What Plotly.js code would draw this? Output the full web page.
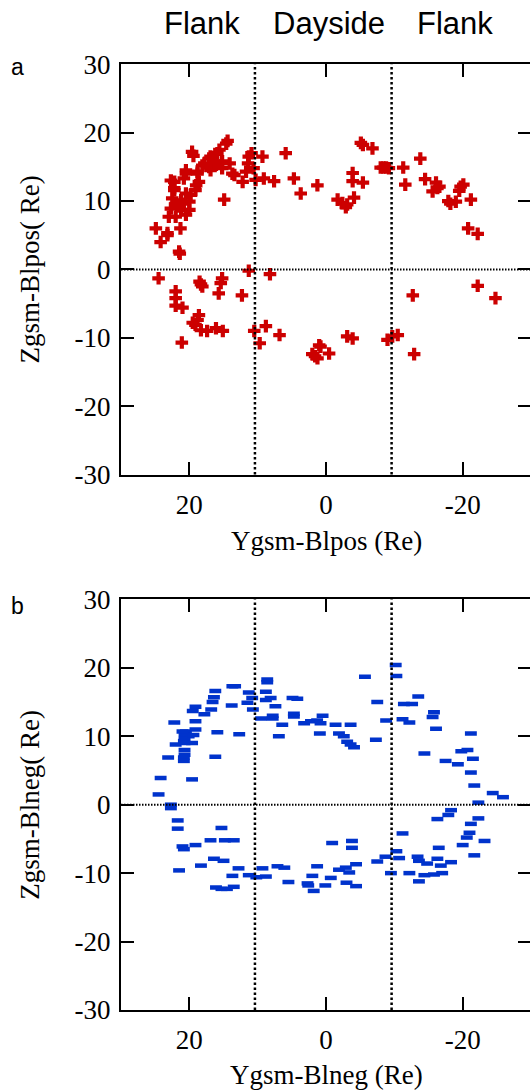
<!DOCTYPE html>
<html>
<head>
<meta charset="utf-8">
<script src="https://cdn.plot.ly/plotly-3.0.1.min.js"></script>
<style>
  html, body { margin: 0; padding: 0; background: #ffffff; overflow: hidden; }
  #chart { width: 540px; height: 1092px; }
</style>
</head>
<body>
<div id="chart"></div>
<script>
// ---- Panel a: reconnection positions for Bl positive (red crosses) ----
const posY = [14.4, 14.6, 19.6, 19.4, 15.6, 15.9, 16.9, 17.1, 16.1, 17.8, 18.1, 16.1, 15.2, 14.1, 15.2, 17.1, 16.9, 18.8, 18.8, 20.5,
  20.5, 13.7, 13.4, 12.2, 20.8, 18.6, 22.7, 22.2, 19.0, 22.2, 22.2, 19.1, 20.5, 19.8, 22.5, 21.2, 20.0, 22.0, 20.8, 21.7,
  21.5, 22.7, 21.2, 20.0, 20.5, 23.0, 22.0, 21.3, 24.9, 23.2, 23.2, 24.2, 21.5, 21.4, 14.9,
  11.3, 10.9, 9.3, 11.4, 11.7, 10.3, 9.1, 7.6, 10.6, 5.9, 4.7, 3.7, 1.26,
  -1.7, -2.4, -2.9, -3.1, -4.1, -3.9, -3.9, -5.4, -5.1, -5.4, -6.8, -8.0, -8.4, -8.8, -9.2, -11.3, -11.6, -13.8, -14.5, -16.1,
  -16.3, -15.6, -16.6, -17.9, -18.2, -19.0, -19.5, -19.7, -20.1, -21.2, -20.8, -22.2,
  24.5, 22.0, 22.0, 22.0, 21.0, 18.5, 18.3, 18.1, 15.2, 15.4, 15.7, 12.3, 11.3, 8.2, 18.6, 18.8, 19.5, 19.1, 18.3, 17.4,
  16.1, 15.1, 21.1, 10.5, 9.7, 8.8, 6.8, 2.0, 1.25, 1.0, 0.8, -0.45, 1.6, -3.1, -3.9, -9.0, -9.7, -10.5, -12.7, -12.9,
  -22.2, -24.8];
const posZ = [18.8, 18.4, 17.2, 16.6, 17.5, 17.0, 16.5, 16.2, 15.8, 15.5, 15.2, 15.3, 15.8, 15.5, 14.8, 15.0, 14.5, 14.3, 14.0, 14.5,
  14.0, 14.0, 13.8, 12.8, 13.3, 12.8, 13.0, 12.8, 12.3, 11.9, 11.6, 11.6, 11.1, 10.9, 10.4, 10.1, 9.9, 9.6, 9.6, 9.4,
  9.2, 8.9, 8.7, 8.7, 8.0, 7.7, 7.7, 6.0, 6.0, 5.3, 5.0, 4.0, 2.6, 2.3, 10.2,
  16.5, 17.0, 16.5, 15.5, 14.3, 13.1, 13.3, 12.9, 14.8, 17.0, 13.3, 11.1, 12.3,
  10.2, 9.7, 9.1, 9.5, 10.5, 12.9, 14.1, 12.7, 18.5, 18.2, 17.7, 14.9, 14.9, 14.9, 14.8, 14.9, 12.4, 16.2, 13.2, 12.7,
  11.9, 11.4, 12.1, 10.0, 9.6, 9.9, 11.5, 12.1, 12.4, 10.2, 6.0, 5.2,
  -1.3, -3.2, -4.2, -5.3, -5.6, -1.8, -2.2, -2.5, -1.3, -2.0, -3.5, -3.8, -0.2, -0.7, -6.7, -7.4, -7.8, -8.1, -8.9, -9.0,
  -8.6, -9.0, -10.7, -9.0, -10.8, -8.3, -9.6, -12.4, -13.0, -11.1, -11.3, -12.3, -12.7, -9.8, -10.1, -10.3, -9.8, -9.6, -3.8, -12.4,
  -2.4, -4.2];

// ---- Panel b: reconnection positions for Bl negative (blue dashes) ----
const negY = [8.6, 8.6, 13.7, 13.3, 16.2, 16.4, 16.6, 19.1, 19.5, 11.3, 10.8, 11.5, 10.7, 8.8, 8.1, 8.8, 7.4, 13.8, 16.8, 17.8,
  19.1, 22.2, 20.5, 19.1, 20.1, 20.8, 22.0, 23.1, 20.8, 20.8, 15.9, 12.7, 16.2, 9.5, 7.8, 7.8, 6.9, 6.4, 4.9, 4.2,
  4.7, 4.7, 3.2, 2.2, 1.3, 0.5, 0.8, 0.9, -1.4, -3.6, -1.9, -2.6, -3.1, -3.6, -4.1, -5.7, -7.5, -7.3, -8.8, -10.2,
  -10.3, -11.4, -12.6, -13.5, -11.2, -12.2, -15.8, -15.6, -16.1, -21.2, -14.4, -17.5, -19.3, -19.8, -20.7, -21.5,
  20.7, 20.7, 20.7, 20.7, 20.7, 19.4, 19.6, 21.0,
  24.2, 19.6, 24.5, 22.7, 22.7, 21.7, 21.7, 21.0, 20.8, 19.1, 21.5, 18.3, 16.9, 15.3, 14.8, 13.5, 16.4, 15.0, 12.8, 13.7,
  16.1, 15.3, 14.5, 13.5, 11.3, 10.2, 8.8, 9.3, 7.1, 6.1, 5.5, 2.7, 2.6, 1.8, 2.0, 1.3, 0.1, -0.9, -0.7, -1.9,
  -2.9, -3.8, -3.8, -3.4, -4.4, -3.0, -4.4, -7.5, -8.7, -9.5, -10.3, -10.7, -11.2, -12.2, -13.4, -13.6, -14.8, -14.4, -13.6, -15.8,
  -16.3, -16.8, -17.0, -16.5, -18.3, -16.3, -17.9, -18.3, -20.0, -20.6, -21.0, -23.2, -21.2, -22.3, -22.3, -21.7, -21.2, -21.7, -24.4, -25.9];
const negZ = [18.3, 17.9, 17.3, 17.3, 16.6, 15.7, 15.0, 14.3, 13.7, 16.4, 15.6, 14.9, 13.9, 16.5, 15.6, 15.3, 14.4, 14.5, 13.9, 13.2,
  12.2, 12.0, 10.7, 11.0, 10.0, 9.3, 8.8, 6.9, 6.9, 6.4, 10.6, 10.3, 7.0, 12.6, 13.0, 12.6, 10.0, 11.7, 15.6, 15.5,
  13.3, 12.9, 11.9, 12.2, 12.3, 13.0, 11.9, 10.4, 11.7, 11.7, 10.4, 10.0, 9.2, 8.8, 8.4, 18.7, 15.0, 9.5, 12.3, 20.4,
  18.8, 14.7, 14.7, 15.8, 12.5, 12.0, 13.5, 12.8, 11.1, 10.4, 7.5, 6.4, 5.9, 7.8, 8.0, 6.7,
  10.2, 9.6, 9.0, 8.0, 7.3, 10.2, 9.0, 10.7,
  3.9, 3.7, 1.5, 0.0, -0.5, -2.3, -3.5, -6.1, -6.5, -5.9, -9.6, -8.9, -5.2, -3.4, -5.2, -5.2, -7.9, -8.2, -9.3, -10.4,
  -12.1, -12.3, -12.3, -12.0, -10.3, -10.6, -10.5, -9.3, -9.0, -9.2, -11.3, -11.5, -11.8, -12.6, -10.4, -9.0, -11.8, -5.6, -10.7, -9.5,
  -9.2, -5.3, -6.3, -9.9, -8.7, -11.4, -11.9, -8.3, -7.6, -10.0, -6.8, -7.8, -4.2, -10.0, -7.6, -8.2, -8.6, -10.3, -11.2, -10.2,
  -7.9, -8.9, -10.0, -6.3, -8.4, -2.1, -1.5, -0.8, -5.9, -4.8, -4.1, -5.3, -2.8, -2.0, 0.3, -7.4, 4.7, 2.8, 1.7, 1.1];

// ---- axes, labels ----
const xTickVals = [20, 0, -20];
const xTickText = ["20", "0", "-20"];
const yTickVals = [30, 20, 10, 0, -10, -20, -30];
const yTickText = ["30", "20", "10", "0", "-10", "-20", "-30"];
const xRange = [30, -30];
const yRange = [-30, 30];
const dividerY = [10.4, -9.6];   // dotted vertical boundaries (flank / dayside)
const regionLabels = ["Flank", "Dayside", "Flank"];
const panelLetters = ["a", "b"];
const xTitles = ["Ygsm-Blpos (Re)", "Ygsm-Blneg (Re)"];
const yTitles = ["Zgsm-Blpos( Re)", "Zgsm-Blneg( Re)"];

const serif = "Liberation Serif, Times New Roman, serif";
const sans = "Liberation Sans, Arial, sans-serif";

const traces = [
  {
    type: "scatter", mode: "markers", x: posY, y: posZ, xaxis: "x", yaxis: "y",
    marker: { symbol: "cross", size: 10.5, color: "#cc0000", line: { width: 0 } },
    hoverinfo: "x+y"
  },
  {
    type: "scatter", mode: "markers", x: negY, y: negZ, xaxis: "x2", yaxis: "y2",
    marker: { symbol: "line-ew", size: 8.5, color: "#0033cc", line: { width: 4.5, color: "#0033cc" } },
    hoverinfo: "x+y"
  }
];

function xAxis(anchor) {
  return {
    anchor: anchor, range: xRange, domain: [0, 1],
    tickvals: xTickVals, ticktext: xTickText,
    ticks: "inside", ticklen: 13, tickwidth: 2, tickcolor: "#000",
    showline: true, linewidth: 2, linecolor: "#000", mirror: "ticks",
    showgrid: false, zeroline: false,
    tickfont: { family: serif, size: 27, color: "#000" },
    ticklabelstandoff: 5
  };
}
function yAxis(anchor, domain) {
  return {
    anchor: anchor, range: yRange, domain: domain,
    tickvals: yTickVals, ticktext: yTickText,
    ticks: "inside", ticklen: 13, tickwidth: 2, tickcolor: "#000",
    showline: true, linewidth: 2, linecolor: "#000", mirror: "ticks",
    showgrid: false, zeroline: false,
    tickfont: { family: serif, size: 27, color: "#000" },
    ticklabelstandoff: 3
  };
}

const H = 1092;
const domA = [1 - 474.5 / H, 1 - 64.3 / H];
const domB = [1 - 1010 / H, 1 - 599.4 / H];

const shapes = [];
[["x", "y"], ["x2", "y2"]].forEach(function (ax) {
  dividerY.forEach(function (v) {
    shapes.push({
      type: "line", xref: ax[0], yref: ax[1] + " domain", x0: v, x1: v, y0: 0, y1: 1,
      line: { color: "#000", width: 2.5, dash: "2.5px,2.5px" }, layer: "above"
    });
  });
  shapes.push({
    type: "line", xref: ax[0] + " domain", yref: ax[1], x0: 0, x1: 1, y0: 0, y1: 0,
    line: { color: "#000", width: 2, dash: "1.5px,1.5px" }, layer: "above"
  });
});

function px2paperX(px) { return (px - 121) / 410; }
function px2paperY(py) { return 1 - py / H; }

const annotations = [];
const regionX = [202, 328.5, 454.7];
regionLabels.forEach(function (t, i) {
  annotations.push({
    text: t, xref: "paper", yref: "paper", x: px2paperX(regionX[i]), y: px2paperY(23),
    xanchor: "center", yanchor: "middle", showarrow: false,
    font: { family: sans, size: 31, color: "#000" }
  });
});
const letterY = [67, 606];
const xTitleY = [541, 1075];
const yTitleY = [269.4, 804.7];
panelLetters.forEach(function (t, i) {
  annotations.push({
    text: t, xref: "paper", yref: "paper", x: px2paperX(17), y: px2paperY(letterY[i]),
    xanchor: "center", yanchor: "middle", showarrow: false,
    font: { family: sans, size: 23, color: "#000" }
  });
  annotations.push({
    text: xTitles[i], xref: "paper", yref: "paper", x: px2paperX(326.9), y: px2paperY(xTitleY[i]),
    xanchor: "center", yanchor: "middle", showarrow: false,
    font: { family: serif, size: 27, color: "#000" }
  });
  annotations.push({
    text: yTitles[i], xref: "paper", yref: "paper", x: px2paperX(30), y: px2paperY(yTitleY[i]),
    xanchor: "center", yanchor: "middle", showarrow: false, textangle: -90,
    font: { family: serif, size: 27, color: "#000" }
  });
});

const layout = {
  width: 540, height: H,
  margin: { l: 121, r: 9, t: 0, b: 0 },
  paper_bgcolor: "#ffffff", plot_bgcolor: "#ffffff",
  showlegend: false,
  xaxis: xAxis("y"), yaxis: yAxis("x", domA),
  xaxis2: xAxis("y2"), yaxis2: yAxis("x2", domB),
  shapes: shapes, annotations: annotations
};

Plotly.newPlot("chart", traces, layout, { staticPlot: true, displayModeBar: false });
</script>
</body>
</html>
